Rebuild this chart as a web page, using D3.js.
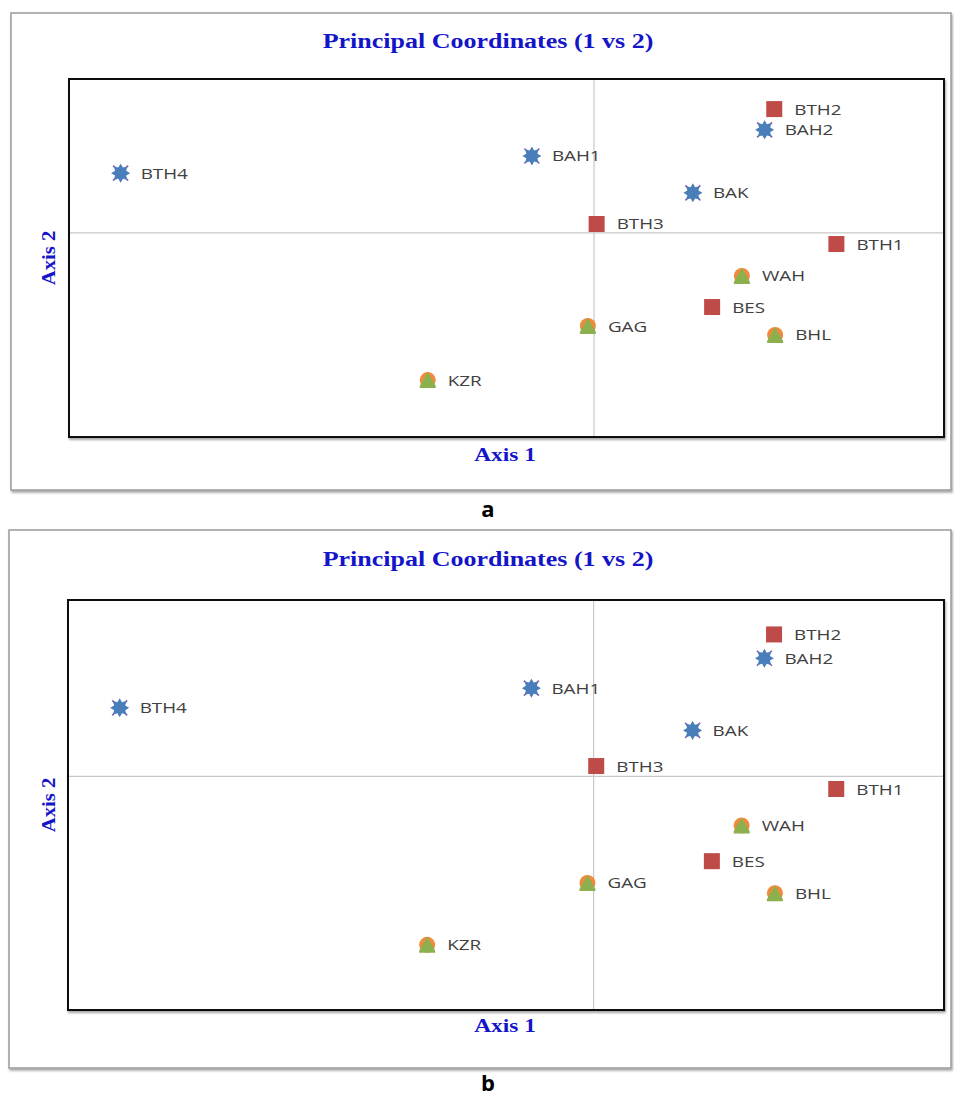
<!DOCTYPE html>
<html>
<head>
<meta charset="utf-8">
<script src="https://cdn.jsdelivr.net/npm/d3@7"></script>
<style>
  body { margin: 0; background: #fff; }
</style>
</head>
<body>
<div id="wrapper"></div>
<script>
// population labels, group and PCoA coordinates (axis 1, axis 2)
const names = ["BTH4", "BAH1", "BAK", "BAH2", "BTH2", "BTH3", "BTH1", "WAH", "BES", "GAG", "BHL", "KZR"]
const groups = ["star", "star", "star", "star", "square", "square", "square", "house", "square", "house", "house", "house"]
const axis1 = [-0.541, -0.071, 0.113, 0.195, 0.206, 0.003, 0.277, 0.169, 0.135, -0.007, 0.207, -0.190]
const axis2 = [0.167, 0.215, 0.112, 0.288, 0.346, 0.025, -0.031, -0.120, -0.207, -0.260, -0.285, -0.411]
const panelLetters = ["a", "b"]

const data = names.map((n, i) => ({ name: n, group: groups[i], x: axis1[i], y: axis2[i] }))

const width = 954
const height = 1097
const stretch = 1.3   // the source figure is widened horizontally

const svg = d3.select("#wrapper")
    .append("svg")
        .attr("width", width)
        .attr("height", height)

const defs = svg.append("defs")
const shadow = defs.append("filter").attr("id", "shadow")
    .attr("x", "-5%").attr("y", "-5%").attr("width", "110%").attr("height", "110%")
shadow.append("feDropShadow")
    .attr("dx", 1).attr("dy", 2).attr("stdDeviation", 1.2)
    .attr("flood-color", "#000").attr("flood-opacity", 0.35)

const panels = [
    { outer: [11, 13, 940, 477], plot: [69, 79, 875, 358], title: 43, xlab: 456, letter: 511, ylab: 50 },
    { outer: [9, 530, 942, 538], plot: [68, 600, 876, 410], title: 561, xlab: 1027, letter: 1085, ylab: 50 }
]

const starPath = () => {
    const pts = []
    for (let k = 0; k < 16; k++) {
        const r = k % 2 === 0 ? 9.5 : 6
        const a = k * Math.PI / 8
        pts.push([r * Math.sin(a), -r * Math.cos(a)])
    }
    return d3.line()(pts) + "Z"
}

const blueText = (x, y, size, str, rotate) => {
    svg.append("text")
        .attr("transform", rotate
            ? `translate(${x},${y}) rotate(-90) scale(1.15,1.1)`
            : `translate(${x},${y}) scale(${stretch},1.1)`)
        .attr("text-anchor", "middle")
        .attr("dominant-baseline", "middle")
        .attr("font-family", "Liberation Serif, serif")
        .attr("font-weight", "bold")
        .attr("font-size", size)
        .attr("fill", "#1414c8")
        .text(str)
}

const drawPanel = (p, letter) => {
    const [ox, oy, ow, oh] = p.outer
    const [px, py, pw, ph] = p.plot

    svg.append("rect")
        .attr("x", ox).attr("y", oy).attr("width", ow).attr("height", oh)
        .attr("fill", "#fff").attr("stroke", "#9a9a9a").attr("stroke-width", 1.5)
        .attr("filter", "url(#shadow)")

    const xScale = d3.scaleLinear().domain([-0.6, 0.4]).range([px, px + pw])
    const yScale = d3.scaleLinear().domain([-0.57, 0.43]).range([py + ph, py])

    svg.append("rect")
        .attr("x", px).attr("y", py).attr("width", pw).attr("height", ph)
        .attr("fill", "#fff").attr("stroke", "#111").attr("stroke-width", 2)
        .attr("filter", "url(#shadow)")

    // zero lines
    svg.append("line")
        .attr("x1", xScale(0)).attr("x2", xScale(0))
        .attr("y1", py + 1).attr("y2", py + ph - 1)
        .attr("stroke", "#c8c8c8").attr("stroke-width", 1.2)
    svg.append("line")
        .attr("x1", px + 1).attr("x2", px + pw - 1)
        .attr("y1", yScale(0)).attr("y2", yScale(0))
        .attr("stroke", "#c8c8c8").attr("stroke-width", 1.2)

    const pts = svg.append("g")
        .selectAll("g")
        .data(data)
        .join("g")
            .attr("transform", d => `translate(${xScale(d.x)},${yScale(d.y)})`)

    pts.filter(d => d.group === "square").append("rect")
        .attr("x", -8).attr("y", -8).attr("width", 16).attr("height", 16)
        .attr("fill", "#be4b48")

    const stars = pts.filter(d => d.group === "star")
    stars.append("path")
        .attr("d", "M-7.5,-7.5L7.5,7.5M-7.5,7.5L7.5,-7.5")
        .attr("stroke", "#8a5fb0").attr("stroke-width", 1.6)
    stars.append("path")
        .attr("d", starPath())
        .attr("fill", "#4a7ebb")

    const houses = pts.filter(d => d.group === "house")
    houses.append("circle")
        .attr("r", 8)
        .attr("fill", "#f08a3c")
    houses.append("path")
        .attr("d", "M0,-8L-8,6L-8,8L8,8L8,6Z")
        .attr("fill", "#8db04e")

    pts.append("text")
        .attr("transform", `translate(20,5.5) scale(${stretch},1.05)`)
        .attr("font-family", "Open Sans, sans-serif")
        .attr("font-size", 14.5)
        .attr("fill", "#404040")
        .text(d => d.name)

    blueText(488, p.title, 20, "Principal Coordinates (1 vs 2)")
    blueText(505, p.xlab, 18, "Axis 1")
    blueText(p.ylab, py + ph / 2, 18, "Axis 2", true)

    svg.append("text")
        .attr("x", 488).attr("y", p.letter)
        .attr("text-anchor", "middle")
        .attr("dominant-baseline", "middle")
        .attr("font-family", "Open Sans, sans-serif")
        .attr("font-weight", "bold")
        .attr("font-size", 22)
        .attr("fill", "#000")
        .text(letter)
}

panels.forEach((p, i) => drawPanel(p, panelLetters[i]))
</script>
</body>
</html>
